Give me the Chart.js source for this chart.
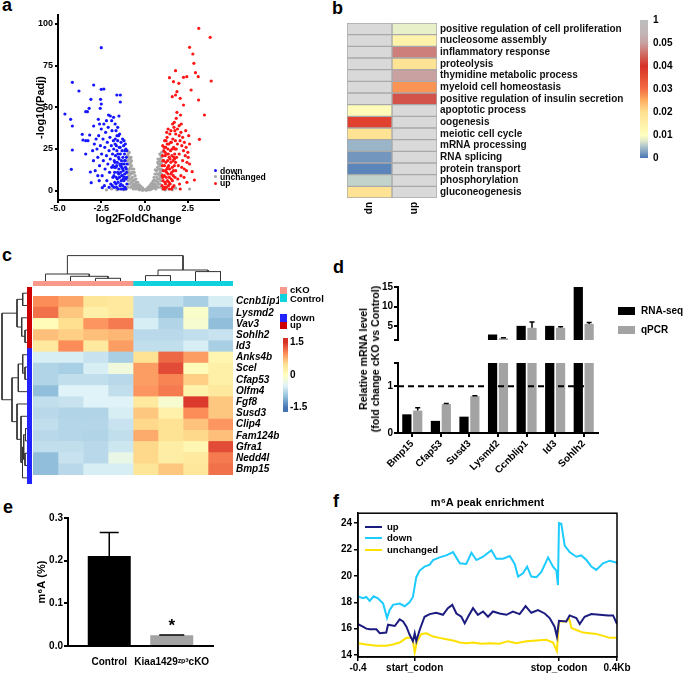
<!DOCTYPE html>
<html><head><meta charset="utf-8"><title>Figure</title>
<script src="https://cdn.jsdelivr.net/npm/chart.js@4.4.1/dist/chart.umd.min.js"></script>
<style>
html,body{margin:0;padding:0;background:#fff;}
body{width:685px;height:674px;position:relative;overflow:hidden;font-family:"Liberation Sans",Arial,Helvetica,sans-serif;}
canvas{position:absolute;display:block;}
.t{position:absolute;font-weight:bold;color:#000;white-space:nowrap;line-height:1;}
.bx{position:absolute;}
</style></head><body>
<script>
// ================= DATA =================
// panel a (volcano)
const aXTicks = [-5, -2.5, 0, 2.5];
const aYTicks = [0, 25, 50, 75, 100];
const aLegend = ['down', 'unchanged', 'up'];
const downPts = [[-2.5,85.8],[-4.17,65],[-3.79,59.8],[-2.94,63.4],[-2.5,60.8],[-2.35,61],[-1.6,57.4],[-1.4,57.4],[-3.1,54.8],[-2.54,54.8],[-3.2,49.4],[-3.4,47.4],[-3.3,47.4],[-2.5,52],[-2.56,49.4],[-1.4,53.2],[-4.6,46],[-4.27,42.8],[-4.17,38.8],[-2.67,42.8],[-2.08,45.4],[-1.98,44.8],[-1.79,44],[-1.48,44.8],[-3.6,33.8],[-3.56,30.4],[-3.4,30],[-3.27,30],[-3.17,33.4],[-2.94,38.8],[-4.17,24.4],[-4.23,12.8],[-3.4,22],[-3.13,11.2],[-3.08,4.8],[-2.44,1.8],
[-2.9,28],[-2.8,31],[-2.75,25],[-2.7,20],[-2.65,33],[-2.6,15],[-2.55,27],[-2.5,37],[-2.48,22],[-2.45,9],[-2.4,31],[-2.38,18],[-2.35,40],[-2.3,26],[-2.28,13],[-2.25,35],[-2.2,21],[-2.18,6],[-2.15,29],[-2.12,16],[-2.1,38],[-2.05,24],[-2.02,11],[-2.0,32],[-1.98,19],[-1.95,4],[-1.92,27],[-1.9,14],[-1.88,36],[-1.85,22],[-1.83,8],[-1.8,30],[-2.85,12],[-2.95,18],[-3.0,24],[-2.7,9],[-2.6,40],[-2.2,42],[-1.9,42],[-1.7,40],[-1.65,36],[-1.55,38],[-1.5,33],[-2.62,6],[-2.32,3],[-2.05,2],
[-1.78,25],[-1.75,18],[-1.73,11],[-1.72,5],[-1.7,28],[-1.68,21],[-1.66,14],[-1.64,8],[-1.62,2],[-1.6,24],[-1.58,17],[-1.56,11],[-1.55,30],[-1.53,5],[-1.5,20],[-1.48,13],[-1.46,26],[-1.45,8],[-1.43,16],[-1.42,3],[-1.4,22],[-1.38,11],[-1.36,29],[-1.35,6],[-1.33,18],[-1.31,14],[-1.3,24],[-1.28,9],[-1.26,3],[-1.25,20],[-1.23,12],[-1.21,27],[-1.2,6],[-1.18,16],[-1.16,22],[-1.15,10],[-1.13,2],[-1.12,18],[-1.1,14],[-1.08,25],[-1.07,7],[-1.05,20],[-1.04,11],[-1.02,4],[-1.01,16],[-1.76,2],[-1.69,31],[-1.59,33],[-1.44,34],[-1.27,31],[-1.19,30],[-1.11,28],[-1.03,24],[-1.65,4],[-1.52,1],[-1.34,1],[-1.22,1],[-1.09,1],[-1.74,14],[-1.57,7],[-1.47,19],[-1.37,4],[-1.29,16],[-1.17,8],[-1.06,13],[-1.63,27],[-1.41,26],[-1.24,7],[-1.14,24],[-1.32,9],[-1.49,10],[-1.61,15],[-1.71,17],[-1.77,9],[-1.54,22],[-1.39,15],[-1.26,13],[-1.15,18],[-1.04,8],[-1.82,15],[-1.86,3]];
const upPts = [[3.13,97.4],[3.79,92],[2.6,86],[2.79,82],[2.85,76.4],[1.79,72],[2.94,70.8],[1.44,67.8],[1.67,65.4],[2.25,68],[2.44,68.4],[3.1,68.4],[3.85,65.8],[1.98,64.4],[2.69,60.4],[1.87,59.4],[1.6,56.4],[1.79,57.4],[2.06,55.4],[3.12,54.4],[2.25,51.4],[3.46,45.4],[1.87,47],[2.08,45.4],[1.83,43.4],[3.17,30.8],[2.75,11.4],[2.88,6.4],[2.06,1],
[1.62,40],[1.7,38],[1.75,36],[1.8,34],[1.9,37],[2.0,33],[2.05,30],[2.1,35],[2.15,27],[2.2,32],[2.25,24],[2.3,29],[2.35,21],[2.4,26],[2.45,17],[2.5,23],[2.3,13],[2.2,18],[2.1,9],[2.0,22],[1.95,15],[1.9,28],[1.85,20],[1.8,12],[1.75,25],[2.12,40],[2.0,39],[1.72,41],[2.55,33],[2.6,28],[2.38,36],[2.28,8],[2.45,5],[2.02,4],[2.15,14],[1.92,7],[2.42,12],[2.6,16],[2.52,20],
[1.01,3],[1.02,9],[1.03,15],[1.04,21],[1.05,27],[1.07,6],[1.08,12],[1.1,18],[1.11,24],[1.12,2],[1.14,9],[1.15,15],[1.16,30],[1.18,5],[1.19,21],[1.2,12],[1.22,26],[1.23,17],[1.25,8],[1.26,2],[1.28,22],[1.29,13],[1.3,32],[1.32,6],[1.33,18],[1.35,25],[1.36,10],[1.38,3],[1.39,15],[1.4,28],[1.42,20],[1.43,8],[1.45,13],[1.46,34],[1.48,4],[1.5,24],[1.52,17],[1.53,10],[1.55,29],[1.56,1],[1.58,21],[1.6,14],[1.61,6],[1.63,31],[1.65,18],[1.66,9],[1.68,26],[1.7,3],[1.72,15],[1.74,22],[1.76,8],[1.78,30],[1.06,18],[1.13,26],[1.21,4],[1.27,11],[1.34,14],[1.41,5],[1.47,19],[1.54,7],[1.59,25],[1.67,12],[1.73,19],[1.09,1],[1.17,1],[1.24,30],[1.31,28],[1.37,22],[1.44,1],[1.51,29],[1.57,11],[1.62,2],[1.69,20],[1.79,17],[1.83,25],[1.05,8],[1.18,23],[1.36,37],[1.52,36],[1.28,35]];
const unchangedPts = [[0.05,0.5],[0.1,1],[0.15,0.5],[0.2,2],[0.25,1],[0.3,3],[0.3,0.5],[0.35,2],[0.4,4.5],[0.4,1],[0.45,3],[0.5,6],[0.5,1.5],[0.55,8],[0.55,4],[0.6,2],[0.6,10],[0.65,6],[0.65,1],[0.7,12],[0.7,8],[0.7,3],[0.75,14],[0.75,5],[0.8,10],[0.8,16],[0.8,2],[0.85,13],[0.85,7],[0.85,18],[0.9,4],[0.9,11],[0.9,19],[0.92,15],[0.95,8],[0.95,21],[0.97,13],[0.98,2],[0.99,17],[0.99,23],[1.05,1],[1.2,0.5],[1.4,1],[1.6,0.5],[1.8,1.5],[2.6,1],[0.62,12.5],[0.88,22],[0.78,19],
[0.12,0.3],[0.22,0.8],[0.28,1.8],[0.33,0.8],[0.38,3],[0.42,2.5],[0.48,4.5],[0.52,3],[0.58,6],[0.62,4],[0.68,10],[0.72,5.5],[0.74,10],[0.78,7],[0.82,13],[0.84,4],[0.88,9],[0.9,15],[0.93,6],[0.96,17],[0.97,10],[0.98,20],[0.93,12],[0.87,16],[0.76,17],
[-0.05,0.5],[-0.1,1.5],[-0.15,0.5],[-0.2,2.5],[-0.25,1],[-0.3,3.5],[-0.3,0.5],[-0.35,1.5],[-0.4,5],[-0.4,2],[-0.45,3],[-0.5,7],[-0.5,1],[-0.55,9],[-0.55,4],[-0.6,2],[-0.6,11],[-0.65,6],[-0.65,1],[-0.7,13],[-0.7,8],[-0.7,3],[-0.75,15],[-0.75,5],[-0.8,10],[-0.8,17],[-0.8,2],[-0.85,13],[-0.85,7],[-0.85,19],[-0.9,4],[-0.9,11],[-0.9,20],[-0.92,16],[-0.95,8],[-0.95,22],[-0.97,13],[-0.98,2],[-0.99,18],[-0.99,24],[-1.05,1],[-1.2,0.5],[-1.4,1],[-1.6,0.5],[-1.9,1],[-2.2,0.5],[-0.62,13],[-0.88,23],[-0.78,20],
[-0.12,0.3],[-0.22,1],[-0.28,2],[-0.33,0.8],[-0.38,3.2],[-0.42,2.5],[-0.48,5],[-0.52,3],[-0.58,6.5],[-0.62,4],[-0.68,10.5],[-0.72,5.5],[-0.74,11],[-0.78,7],[-0.82,14],[-0.84,4],[-0.88,9],[-0.9,16],[-0.93,6],[-0.96,18],[-0.97,10],[-0.98,21],[-0.93,12],[-0.87,16],[-0.76,18]];

// panel b (GO heatmap, p-values; null = not significant)
const bTerms = ['positive regulation of cell proliferation','nucleosome assembly','inflammatory response','proteolysis','thymidine metabolic process','myeloid cell homeostasis','positive regulation of insulin secretion','apoptotic process','oogenesis','meiotic cell cycle','mRNA processing','RNA splicing','protein transport','phosphorylation','gluconeogenesis'];
const bCols = ['dn', 'up'];
const bDn = [null,null,null,null,null,null,null,0.011,0.037,0.019,0.004,0.002,0.001,0.006,0.019];
const bUp = [0.008,0.014,0.047,0.019,0.05,0.027,0.043,null,null,null,null,null,null,null,null];
const bCbLabels = ['0','0.01','0.02','0.03','0.04','0.05','1'];

// panel c (expression heatmap, z-scores)
const cGenes = ['Ccnb1ip1','Lysmd2','Vav3','Sohlh2','Id3','Anks4b','Scel','Cfap53','Olfm4','Fgf8','Susd3','Clip4','Fam124b','Gfra1','Nedd4l','Bmp15'];
const cRowGroup = ['up','up','up','up','up','down','down','down','down','down','down','down','down','down','down','down'];
const cSamples = ['cKO1','cKO2','cKO3','cKO4','Ctrl1','Ctrl2','Ctrl3','Ctrl4'];
const cColGroup = ['cKO','cKO','cKO','cKO','Control','Control','Control','Control'];
const cZ = [
 [1.0,0.85,0.4,0.35,-0.7,-0.7,-0.85,-0.55],
 [1.15,0.65,0.25,0.35,-0.7,-0.95,-0.1,-0.9],
 [0.05,0.5,0.95,1.1,-0.55,-0.8,-0.15,-1.0],
 [0.7,0.6,0.7,0.75,-0.75,-0.75,-0.7,-0.65],
 [0.35,1.0,0.35,0.9,-0.7,-0.7,-0.55,-0.85],
 [-0.55,-0.55,-0.65,-0.85,0.45,1.2,0.9,0.15],
 [-0.8,-0.85,-0.55,-0.25,0.9,1.35,0.05,0.25],
 [-0.8,-0.7,-0.7,-0.75,0.9,1.05,0.6,0.25],
 [-1.0,-0.5,-0.5,-0.7,0.95,1.1,0.2,0.35],
 [-0.7,-0.65,-0.5,-0.5,0.35,-0.15,1.45,0.65],
 [-0.75,-0.8,-0.8,-0.55,0.65,0.22,1.0,0.65],
 [-0.7,-0.78,-0.78,-0.65,0.55,0.45,0.68,0.95],
 [-0.75,-0.78,-0.8,-0.7,0.82,0.45,0.55,0.7],
 [-0.7,-0.7,-0.75,-0.62,0.55,0.28,0.15,1.35],
 [-1.0,-0.65,-0.75,-0.35,0.55,0.28,0.35,1.1],
 [-1.0,-0.75,-0.55,-0.55,0.4,0.65,0.38,1.15]
];
const cColMerges = [[2,3,2.7],[1,8,4.7],[0,9,7.0],[4,5,5.4],[6,7,9.4],[11,12,11.0],[10,13,25.4]];
const cRowMerges = [[0,1,4.3],[3,4,2.0],[2,17,5.3],[16,18,10],[6,7,2.0],[5,20,4.3],[21,8,8.7],[11,12,1.5],[13,14,2.0],[23,24,3.3],[25,15,4.5],[10,26,6.0],[9,27,10],[22,28,15],[19,29,25]];
const cCbTicks = [-1.5, 0, 1.5];
const cLegendGroups = ['cKO', 'Control'];
const cLegendRows = ['down', 'up'];

// panel d
const dGenes = ['Bmp15','Cfap53','Susd3','Lysmd2','Ccnblip1','Id3','Sohlh2'];
const dSeries = ['RNA-seq', 'qPCR'];
const dRnaSeq = [0.40, 0.26, 0.35, 2.9, 5.1, 5.1, 15];
const dQpcr = [0.48, 0.62, 0.79, 1.95, 4.6, 4.6, 5.6];
const dQpcrErr = [0.06, 0.01, 0.01, 0.1, 1.5, 0.25, 0.35];
const dRefLine = 1;
const dUpTicks = [1.5, 5, 10, 15];
const dUpLabels = ['', '5', '10', '15'];
const dLoTicks = [0, 1, 1.5];
const dLoLabels = ['0', '1', ''];

// panel e
const eCats = ['Control', 'Kiaa1429\u1DBB\u1D56\u00B3cKO'];
const eVals = [0.211, 0.025];
const eErr = [0.055, 0.001];
const eSig = ['', '*'];
const eYTicks = [0, 0.1, 0.2, 0.3];

// panel f
const fTickPos = [0, 21.9, 77.6, 100];
const fTickLabels = ['-0.4', 'start_codon', 'stop_codon', '0.4Kb'];
const fYTicks = [14, 16, 18, 20, 22, 24];
const fSeries = ['up', 'down', 'unchanged'];
const fUp = [[0,16.35],[1.9,16.15],[3.2,16.0],[4.5,15.95],[7.1,15.95],[8.4,15.65],[10.9,15.7],[11.6,16.3],[14.2,16.2],[16.1,16.7],[17.4,16.55],[18.7,16.15],[19.9,15.55],[21.2,15.05],[21.9,15.65],[22.5,15.05],[23.8,15.9],[25.7,16.9],[27.7,17.1],[30.2,17.2],[32.8,17.05],[34.7,17.55],[36.4,17.8],[38.0,17.15],[39.9,16.9],[41.2,16.4],[42.5,16.9],[44.4,17.55],[46.3,17.05],[48.3,17.3],[50.2,16.9],[52.1,17.3],[54.7,17.15],[57.3,17.05],[59.8,17.3],[62.4,17.1],[64.7,17.7],[66.9,17.2],[69.5,17.4],[72.1,17.15],[74.0,16.8],[75.9,16.15],[76.8,15.4],[77.6,16.6],[80.4,16.55],[81.7,17.0],[84.3,16.8],[85.6,16.35],[87.5,16.9],[90.1,17.1],[93.3,17.05],[96.5,17.0],[98.5,17.0],[100,16.35]];
const fDown = [[0,18.45],[1.9,18.3],[3.2,18.4],[4.5,18.1],[6.0,18.45],[7.7,18.3],[9.7,17.9],[11.2,16.8],[12.2,17.4],[13.5,17.8],[16.1,17.9],[18.0,17.7],[19.9,18.0],[21.2,18.4],[22.5,19.9],[23.8,20.4],[25.7,20.7],[27.7,20.85],[29.0,21.2],[31.5,21.4],[34.1,21.55],[36.7,21.8],[39.3,20.95],[41.8,20.9],[43.8,21.75],[45.7,21.2],[48.3,21.45],[51.5,21.95],[53.4,21.3],[56.0,21.3],[58.6,21.5],[60.5,20.9],[61.8,19.95],[63.7,20.2],[65.3,20.7],[66.9,19.95],[68.9,19.9],[70.8,20.3],[73.4,21.4],[75.3,20.7],[76.6,20.4],[77.2,19.3],[77.6,24.0],[78.5,23.95],[79.8,22.3],[81.7,21.8],[84.3,21.45],[86.2,21.55],[88.2,21.2],[90.1,20.7],[92.0,20.45],[94.6,20.95],[97.2,21.15],[100,21.0]];
const fUnchanged = [[0,14.9],[3.2,14.8],[7.1,14.7],[10.9,14.7],[13.5,14.8],[16.1,14.95],[18.7,15.3],[20.6,15.3],[21.2,15.05],[21.9,14.2],[22.8,15.05],[24.5,15.6],[26.4,15.65],[29.0,15.4],[31.5,15.3],[34.1,15.2],[36.7,15.1],[39.3,14.95],[41.8,14.9],[44.4,14.95],[47.6,14.85],[50.8,14.9],[54.7,14.85],[57.9,15.05],[61.1,14.9],[65.0,15.05],[68.9,15.1],[72.7,15.15],[75.3,14.95],[76.8,14.3],[77.6,16.55],[80.4,16.55],[81.5,16.8],[82.4,16.05],[84.3,15.9],[86.9,15.7],[89.4,15.65],[92.0,15.6],[94.6,15.45],[97.2,15.3],[100,15.3]];

// ================= STYLE / HELPERS =================
Chart.defaults.font.family = '"Liberation Sans", Arial, sans-serif';
Chart.defaults.font.size = 10;
Chart.defaults.font.weight = 'bold';
Chart.defaults.color = '#000';
Chart.defaults.animation = false;
Chart.defaults.responsive = false;
Chart.defaults.maintainAspectRatio = false;
Chart.defaults.plugins.legend.display = false;
Chart.defaults.plugins.tooltip.enabled = false;
Chart.defaults.events = [];

function mk(l, t, w, h) {
  const c = document.createElement('canvas');
  c.width = w; c.height = h;
  c.style.left = l + 'px'; c.style.top = t + 'px';
  c.style.width = w + 'px'; c.style.height = h + 'px';
  document.body.appendChild(c);
  return c.getContext('2d');
}
function addText(str, x, y, size, extra) {
  const d = document.createElement('div');
  d.className = 't'; d.textContent = str;
  d.style.left = x + 'px'; d.style.top = y + 'px'; d.style.fontSize = size + 'px';
  d.style.transform = 'translateY(-50%)';
  if (extra) Object.assign(d.style, extra);
  document.body.appendChild(d); return d;
}
function addBox(x, y, w, h, color, extra) {
  const d = document.createElement('div');
  d.className = 'bx';
  Object.assign(d.style, {left: x + 'px', top: y + 'px', width: w + 'px', height: h + 'px', background: color});
  if (extra) Object.assign(d.style, extra);
  document.body.appendChild(d); return d;
}
const fix = vals => s => { s.ticks = vals.map(v => ({value: v})); };
const lab = arr => (v, i) => arr[i];
const grid = (len, w) => ({display: true, drawOnChartArea: false, drawTicks: true, tickLength: len, color: '#000', lineWidth: w});
const border = w => ({display: true, color: '#000', width: w});
const noGrid = () => ({display: false, drawTicks: false});

function hex2rgb(h) { const n = parseInt(h.slice(1), 16); return [(n >> 16) & 255, (n >> 8) & 255, n & 255]; }
function interp(stops, v) {
  if (v <= stops[0][0]) return stops[0][1];
  for (let i = 1; i < stops.length; i++) {
    if (v <= stops[i][0]) {
      const p0 = stops[i-1][0], p1 = stops[i][0];
      const a = hex2rgb(stops[i-1][1]), b = hex2rgb(stops[i][1]);
      const t = (v - p0) / (p1 - p0);
      return 'rgb(' + a.map((x, k) => Math.round(x + (b[k] - x) * t)).join(',') + ')';
    }
  }
  return stops[stops.length - 1][1];
}
const P_STOPS = [[0,'#bdbdbd'],[0.1,'#c2b5b5'],[1/6,'#c9a1a1'],[0.25,'#d06a62'],[2/6,'#d73027'],[0.5,'#f46d43'],[0.583,'#fdae61'],[4/6,'#fee090'],[5/6,'#ffffbf'],[0.87,'#e6eecb'],[0.92,'#a9c1ca'],[0.96,'#7b9dc0'],[1,'#4575b4']];
const NA_COLOR = '#d9d9d9';
function pPos(p) { return p >= 0.05 ? (1 - p) / 0.95 * (1/6) : 1/6 + (0.05 - p) / 0.05 * (5/6); }
function pColor(p) { return p == null ? NA_COLOR : interp(P_STOPS, pPos(p)); }
const Z_STOPS = [[-1.5,'#4575b4'],[-1,'#91bfdb'],[-0.5,'#e0f3f8'],[0,'#ffffbf'],[0.5,'#fee090'],[1,'#fc8d59'],[1.5,'#d73027']];
function zColor(z) { return interp(Z_STOPS, z); }

const A_COLORS = {down: '#1717ff', unchanged: '#a6a6a6', up: '#ff1717'};
const ROW_COLORS = {up: '#cc0000', down: '#2323ff'};
const GROUP_COLORS = {cKO: '#f9998b', Control: '#0fd2dc'};
const D_COLORS = ['#000000', '#a3a3a3'];
const E_COLORS = ['#000000', '#a3a3a3'];
const F_COLORS = {up: '#1c1c80', down: '#1ecbff', unchanged: '#ffe100'};

const errPlugin = {
  id: 'errbars',
  afterDatasetsDraw(chart, args, o) {
    if (!o || !o.errors) return;
    const ctx = chart.ctx, meta = chart.getDatasetMeta(o.datasetIndex), ys = chart.scales.y;
    const vals = chart.data.datasets[o.datasetIndex].data;
    const a = chart.chartArea;
    ctx.save();
    ctx.beginPath(); ctx.rect(a.left, a.top - 2, a.right - a.left, a.bottom - a.top + 2); ctx.clip();
    ctx.strokeStyle = '#000'; ctx.lineWidth = o.lineWidth || 1.5;
    meta.data.forEach((el, i) => {
      const e = o.errors[i]; if (!e) return;
      const v = (typeof vals[i] === 'object') ? vals[i].y : vals[i];
      const y0 = ys.getPixelForValue(v), y1 = ys.getPixelForValue(v + e);
      const cap = Array.isArray(o.cap) ? o.cap[i] : o.cap;
      ctx.beginPath();
      ctx.moveTo(el.x, y0); ctx.lineTo(el.x, y1);
      ctx.moveTo(el.x - cap / 2, y1); ctx.lineTo(el.x + cap / 2, y1);
      ctx.stroke();
    });
    ctx.restore();
  }
};
const refPlugin = {
  id: 'refline',
  afterDatasetsDraw(chart, args, o) {
    if (!o || o.value == null) return;
    const ctx = chart.ctx, y = chart.scales.y.getPixelForValue(o.value), a = chart.chartArea;
    ctx.save(); ctx.setLineDash([6, 4]); ctx.lineWidth = 2; ctx.strokeStyle = '#000';
    ctx.beginPath(); ctx.moveTo(a.left, y); ctx.lineTo(a.right - 10, y); ctx.stroke(); ctx.restore();
  }
};
const sigPlugin = {
  id: 'sig',
  afterDatasetsDraw(chart, args, o) {
    if (!o || !o.labels) return;
    const ctx = chart.ctx, meta = chart.getDatasetMeta(0), ys = chart.scales.y;
    ctx.save(); ctx.fillStyle = '#000'; ctx.font = 'bold 17px "Liberation Sans", Arial, sans-serif';
    ctx.textAlign = 'center'; ctx.textBaseline = 'middle';
    meta.data.forEach((el, i) => {
      if (!o.labels[i]) return;
      const y = ys.getPixelForValue(o.values[i] + o.errors[i]) - 9;
      ctx.fillText(o.labels[i], el.x, y);
    });
    ctx.restore();
  }
};
const framePlugin = {
  id: 'frame',
  afterDraw(chart) {
    const a = chart.chartArea, ctx = chart.ctx;
    ctx.save(); ctx.strokeStyle = '#000'; ctx.lineWidth = 1.5;
    ctx.strokeRect(a.left, a.top, a.right - a.left, a.bottom - a.top); ctx.restore();
  }
};
function dendroSegments(merges, nLeaves) {
  const pos = [], h = [];
  for (let i = 0; i < nLeaves; i++) { pos.push(i + 0.5); h.push(0); }
  const segs = [];
  merges.forEach(([a, b, ht]) => {
    segs.push([[pos[a], h[a]], [pos[a], ht], [pos[b], ht], [pos[b], h[b]]]);
    pos.push((pos[a] + pos[b]) / 2); h.push(ht);
  });
  return segs;
}
const toXY = arr => arr.map(p => ({x: p[0], y: p[1]}));

// ================= PANEL LETTERS =================
addText('a', 2, 5, 18);
addText('b', 332, 7.5, 18);
addText('c', 2, 255, 18);
addText('d', 333, 267, 18);
addText('e', 3, 506.5, 18);
addText('f', 333, 501, 18);

// ================= PANEL A =================
new Chart(mk(0, 0, 225, 226), {
  type: 'scatter',
  data: {datasets: [
    {label: aLegend[0], data: toXY(downPts), backgroundColor: A_COLORS.down, borderWidth: 0, pointRadius: 1.6},
    {label: aLegend[2], data: toXY(upPts), backgroundColor: A_COLORS.up, borderWidth: 0, pointRadius: 1.6},
    {label: aLegend[1], data: toXY(unchangedPts), backgroundColor: A_COLORS.unchanged, borderWidth: 0, pointRadius: 1.6}
  ]},
  options: {
    layout: {padding: {top: 15, right: 6, left: 0, bottom: 0}},
    scales: {
      x: {type: 'linear', min: -5, max: 4.3, afterBuildTicks: fix(aXTicks), afterFit: s => { s.height = 26; },
          border: border(2), grid: grid(3, 2),
          ticks: {callback: v => v.toFixed(1), padding: 0, maxRotation: 0, autoSkip: false, font: {size: 9, weight: 'bold'}},
          title: {display: true, text: 'log2FoldChange', font: {size: 11, weight: 'bold'}, padding: {top: 0, bottom: 0}}},
      y: {type: 'linear', min: -5.6, max: 105.4, afterBuildTicks: fix(aYTicks), afterFit: s => { s.width = 58; },
          border: border(2), grid: grid(3, 2),
          ticks: {padding: 2, autoSkip: false, font: {size: 9, weight: 'bold'}},
          title: {display: true, text: '-log10(Padj)', font: {size: 11, weight: 'bold'}, padding: {top: 34, bottom: 0}}}
    }
  }
});
[['down', 170.5], ['unchanged', 176.8], ['up', 183.2]].forEach(([k, y]) => {
  addBox(213.5, y - 1.5, 3, 3, A_COLORS[k], {borderRadius: '50%'});
  addText(k, 220, y, 8.6);
});

// ================= PANEL B =================
new Chart(mk(347, 14, 285, 206), {
  type: 'bar',
  data: {labels: bTerms, datasets: [bDn, bUp].map((vals, j) => ({
    label: bCols[j], data: bTerms.map(() => 1), backgroundColor: vals.map(pColor),
    borderColor: '#a9a9a9', borderWidth: 1, borderSkipped: false
  }))},
  options: {
    indexAxis: 'y',
    layout: {padding: 0},
    datasets: {bar: {barPercentage: 1, categoryPercentage: 1}},
    scales: {
      x: {stacked: true, min: 0, max: 2, afterBuildTicks: fix([0.5, 1.5]), afterFit: s => { s.height = 22; },
          grid: noGrid(), border: {display: false},
          ticks: {callback: lab(bCols), minRotation: 90, maxRotation: 90, autoSkip: false, padding: 4, font: {size: 10, weight: 'bold'}}},
      y: {stacked: true, position: 'right', afterFit: s => { s.width = 195; },
          grid: noGrid(), border: {display: false},
          ticks: {autoSkip: false, padding: 3, font: {size: 10, weight: 'bold'}, color: '#111'}}
    }
  }
});
new Chart(mk(630, 9, 55, 160), {
  type: 'bar',
  data: {labels: ['p'], datasets: [{data: [[0, 6]], borderWidth: 0, barPercentage: 1, categoryPercentage: 1,
    backgroundColor: c => {
      const ca = c.chart.chartArea; if (!ca) return '#ccc';
      const g = c.chart.ctx.createLinearGradient(0, ca.top, 0, ca.bottom);
      P_STOPS.forEach(s => g.addColorStop(s[0], s[1]));
      return g;
    }}]},
  options: {
    layout: {padding: {left: 10, top: 6, bottom: 7, right: 0}},
    scales: {
      x: {display: false},
      y: {position: 'right', min: 0, max: 6, afterBuildTicks: fix([0, 1, 2, 3, 4, 5, 6]), afterFit: s => { s.width = 37; },
          grid: noGrid(), border: {display: false},
          ticks: {callback: lab(bCbLabels), padding: 5, autoSkip: false, font: {size: 10, weight: 'bold'}}}
    }
  }
});

// ================= PANEL C =================
new Chart(mk(33, 254, 200, 27), {
  type: 'scatter',
  data: {datasets: dendroSegments(cColMerges, cSamples.length).map(s => ({
    data: s.map(q => ({x: q[0], y: q[1]})), showLine: true, borderColor: '#333', borderWidth: 1, pointRadius: 0, clip: false
  }))},
  options: {layout: {padding: 0}, scales: {x: {display: false, min: 0, max: 8}, y: {display: false, min: 0, max: 27}}}
});
new Chart(mk(33, 281, 200, 5), {
  type: 'bar',
  data: {labels: ['group'], datasets: cColGroup.map(g => ({data: [1], backgroundColor: GROUP_COLORS[g], borderWidth: 0}))},
  options: {indexAxis: 'y', layout: {padding: 0}, datasets: {bar: {barPercentage: 1, categoryPercentage: 1}},
    scales: {x: {display: false, stacked: true, min: 0, max: 8}, y: {display: false, stacked: true}}}
});
new Chart(mk(0, 287, 27, 197), {
  type: 'scatter',
  data: {datasets: dendroSegments(cRowMerges, cGenes.length).map(s => ({
    data: s.map(q => ({x: q[1], y: q[0]})), showLine: true, borderColor: '#333', borderWidth: 1, pointRadius: 0, clip: false
  }))},
  options: {layout: {padding: 0}, scales: {x: {display: false, min: 0, max: 27, reverse: true}, y: {display: false, min: 0, max: 16, reverse: true}}}
});
new Chart(mk(27, 287, 5, 197), {
  type: 'bar',
  data: {labels: cGenes, datasets: [{data: cGenes.map(() => 1), backgroundColor: cRowGroup.map(g => ROW_COLORS[g]), borderWidth: 0}]},
  options: {indexAxis: 'y', layout: {padding: 0}, datasets: {bar: {barPercentage: 1, categoryPercentage: 1}},
    scales: {x: {display: false, min: 0, max: 1}, y: {display: false}}}
});
new Chart(mk(33, 287, 246, 197), {
  type: 'bar',
  data: {labels: cGenes, datasets: cSamples.map((s, j) => ({
    label: s, data: cGenes.map(() => 1), backgroundColor: cZ.map(r => zColor(r[j])), borderWidth: 0
  }))},
  options: {
    indexAxis: 'y', layout: {padding: 0},
    datasets: {bar: {barPercentage: 1, categoryPercentage: 1}},
    scales: {
      x: {display: false, stacked: true, min: 0, max: 8},
      y: {stacked: true, position: 'right', afterFit: s => { s.width = 46; },
          grid: noGrid(), border: {display: false},
          ticks: {autoSkip: false, padding: 3, font: {size: 10, weight: 'bold', style: 'italic'}}}
    }
  }
});
new Chart(mk(278, 330, 40, 90), {
  type: 'bar',
  data: {labels: ['z'], datasets: [{data: [[-1.7, 1.7]], borderWidth: 0, barPercentage: 1, categoryPercentage: 1,
    backgroundColor: c => {
      const ca = c.chart.chartArea; if (!ca) return '#ccc';
      const g = c.chart.ctx.createLinearGradient(0, ca.bottom, 0, ca.top);
      Z_STOPS.forEach(s => g.addColorStop((s[0] + 1.7) / 3.4, s[1]));
      g.addColorStop(0, Z_STOPS[0][1]); g.addColorStop(1, Z_STOPS[Z_STOPS.length - 1][1]);
      return g;
    }}]},
  options: {
    layout: {padding: {left: 5, top: 5, bottom: 5, right: 0}},
    scales: {
      x: {display: false},
      y: {position: 'right', min: -1.7, max: 1.7, afterBuildTicks: fix(cCbTicks), afterFit: s => { s.width = 30; },
          grid: noGrid(), border: {display: false},
          ticks: {callback: v => String(v), padding: 2, autoSkip: false, font: {size: 10, weight: 'bold'}}}
    }
  }
});
addBox(279.5, 286.5, 7.5, 7, GROUP_COLORS.cKO);
addBox(279.5, 293.5, 7.5, 8.5, GROUP_COLORS.Control);
addText(cLegendGroups[0], 290, 290, 9.5);
addText(cLegendGroups[1], 290, 299, 9.5);
addBox(279.5, 314, 7.5, 7.5, ROW_COLORS.down);
addBox(279.5, 321.5, 7.5, 7.5, ROW_COLORS.up);
addText(cLegendRows[0], 290, 317.5, 9.5);
addText(cLegendRows[1], 290, 325, 9.5);

// ================= PANEL D =================
function dChart(top, h, min, max, ticks, labels, showX, padTop, xH) {
  return new Chart(mk(330, top, 276, h), {
    type: 'bar',
    data: {labels: dGenes, datasets: [
      {label: dSeries[0], data: dRnaSeq, backgroundColor: D_COLORS[0], borderWidth: 0, clip: 0},
      {label: dSeries[1], data: dQpcr, backgroundColor: D_COLORS[1], borderWidth: 0, clip: 0}
    ]},
    options: {
      layout: {padding: {top: padTop, right: 8, left: 0, bottom: showX ? 0 : 2}},
      datasets: {bar: {categoryPercentage: 0.76, barPercentage: 0.85}},
      scales: {
        x: showX ? {border: border(2), grid: Object.assign(grid(4, 2), {offset: false}), afterFit: s => { s.height = xH; },
             ticks: {minRotation: 45, maxRotation: 45, autoSkip: false, padding: 1, font: {size: 10, weight: 'bold'}}}
           : {display: false},
        y: {min: min, max: max, afterBuildTicks: fix(ticks), afterFit: s => { s.width = 68; },
            border: border(2), grid: grid(4, 2),
            ticks: {callback: lab(labels), padding: 1, autoSkip: false, font: {size: 10, weight: 'bold'}}}
      },
      plugins: {errbars: {datasetIndex: 1, errors: dQpcrErr, cap: 5, lineWidth: 1.5}, refline: showX ? {value: dRefLine} : {}}
    },
    plugins: [errPlugin, refPlugin]
  });
}
dChart(280, 67, 1.5, 15, dUpTicks, dUpLabels, false, 6, 0);
dChart(356, 124, 0, 1.5, dLoTicks, dLoLabels, true, 6, 47);
(function () {
  const d = document.createElement('div');
  d.className = 't';
  d.innerHTML = 'Relative mRNA level<br>(fold change cKO vs Control)';
  Object.assign(d.style, {left: '369px', top: '359px', fontSize: '10.6px', lineHeight: '12px', textAlign: 'center',
    transform: 'translate(-50%,-50%) rotate(-90deg)'});
  document.body.appendChild(d);
})();
addBox(618, 307, 17, 7.5, D_COLORS[0]);
addBox(618, 326, 17, 7.5, D_COLORS[1]);
addText(dSeries[0], 641, 310.8, 10);
addText(dSeries[1], 641, 329.8, 10);

// ================= PANEL E =================
new Chart(mk(0, 508, 225, 166), {
  type: 'bar',
  data: {datasets: [{data: eVals.map((v, i) => ({x: i, y: v})), backgroundColor: E_COLORS, borderWidth: 0, clip: 0}]},
  options: {
    layout: {padding: {top: 10, right: 12, left: 0, bottom: 0}},
    datasets: {bar: {barPercentage: 0.8, categoryPercentage: 0.86}},
    scales: {
      x: {type: 'linear', offset: false, min: -0.66, max: 1.66, afterBuildTicks: fix([0, 1]), afterFit: s => { s.height = 28; },
          border: border(2), grid: noGrid(),
          ticks: {callback: lab(eCats), padding: 10, maxRotation: 0, autoSkip: false, font: {size: 10, weight: 'bold'}}},
      y: {min: 0, max: 0.3, afterBuildTicks: fix(eYTicks), afterFit: s => { s.width = 68; },
          border: border(2), grid: grid(4, 2),
          ticks: {callback: v => v.toFixed(1), padding: 1, autoSkip: false, font: {size: 10, weight: 'bold'}},
          title: {display: true, text: 'm\u2076A (%)', font: {size: 11, weight: 'bold'}, padding: {top: 35, bottom: 0}}}
    },
    plugins: {errbars: {datasetIndex: 0, errors: eErr, cap: [19, 25], lineWidth: 1.5},
              sig: {labels: eSig, values: eVals, errors: eErr}}
  },
  plugins: [errPlugin, sigPlugin]
});

// ================= PANEL F =================
new Chart(mk(320, 492, 315, 182), {
  type: 'scatter',
  data: {datasets: [
    {label: fSeries[0], data: toXY(fUp), showLine: true, borderColor: F_COLORS.up, borderWidth: 2, pointRadius: 0},
    {label: fSeries[2], data: toXY(fUnchanged), showLine: true, borderColor: F_COLORS.unchanged, borderWidth: 2, pointRadius: 0},
    {label: fSeries[1], data: toXY(fDown), showLine: true, borderColor: F_COLORS.down, borderWidth: 2, pointRadius: 0}
  ]},
  options: {
    layout: {padding: {top: 0, right: 18, left: 0, bottom: 0}},
    plugins: {title: {display: true, text: 'm\u2076A peak enrichment', fullSize: false, font: {size: 11, weight: 'bold'}, padding: {top: 4, bottom: 4}, color: '#000'}},
    scales: {
      x: {min: 0, max: 100, afterBuildTicks: fix(fTickPos), afterFit: s => { s.height = 17; },
          border: border(1.5), grid: grid(4, 1.5),
          ticks: {callback: lab(fTickLabels), padding: 1, maxRotation: 0, autoSkip: false, font: {size: 10, weight: 'bold'}}},
      y: {min: 13.85, max: 24.75, afterBuildTicks: fix(fYTicks), afterFit: s => { s.width = 38; },
          border: border(1.5), grid: grid(4, 1.5),
          ticks: {padding: 2, autoSkip: false, font: {size: 10, weight: 'bold'}}}
    }
  },
  plugins: [framePlugin]
});
[['up', 526.7], ['down', 538.3], ['unchanged', 550]].forEach(([k, y]) => {
  addBox(365, y - 1, 17, 2.2, F_COLORS[k]);
  addText(k, 387, y, 9.6);
});
</script>
</body></html>
